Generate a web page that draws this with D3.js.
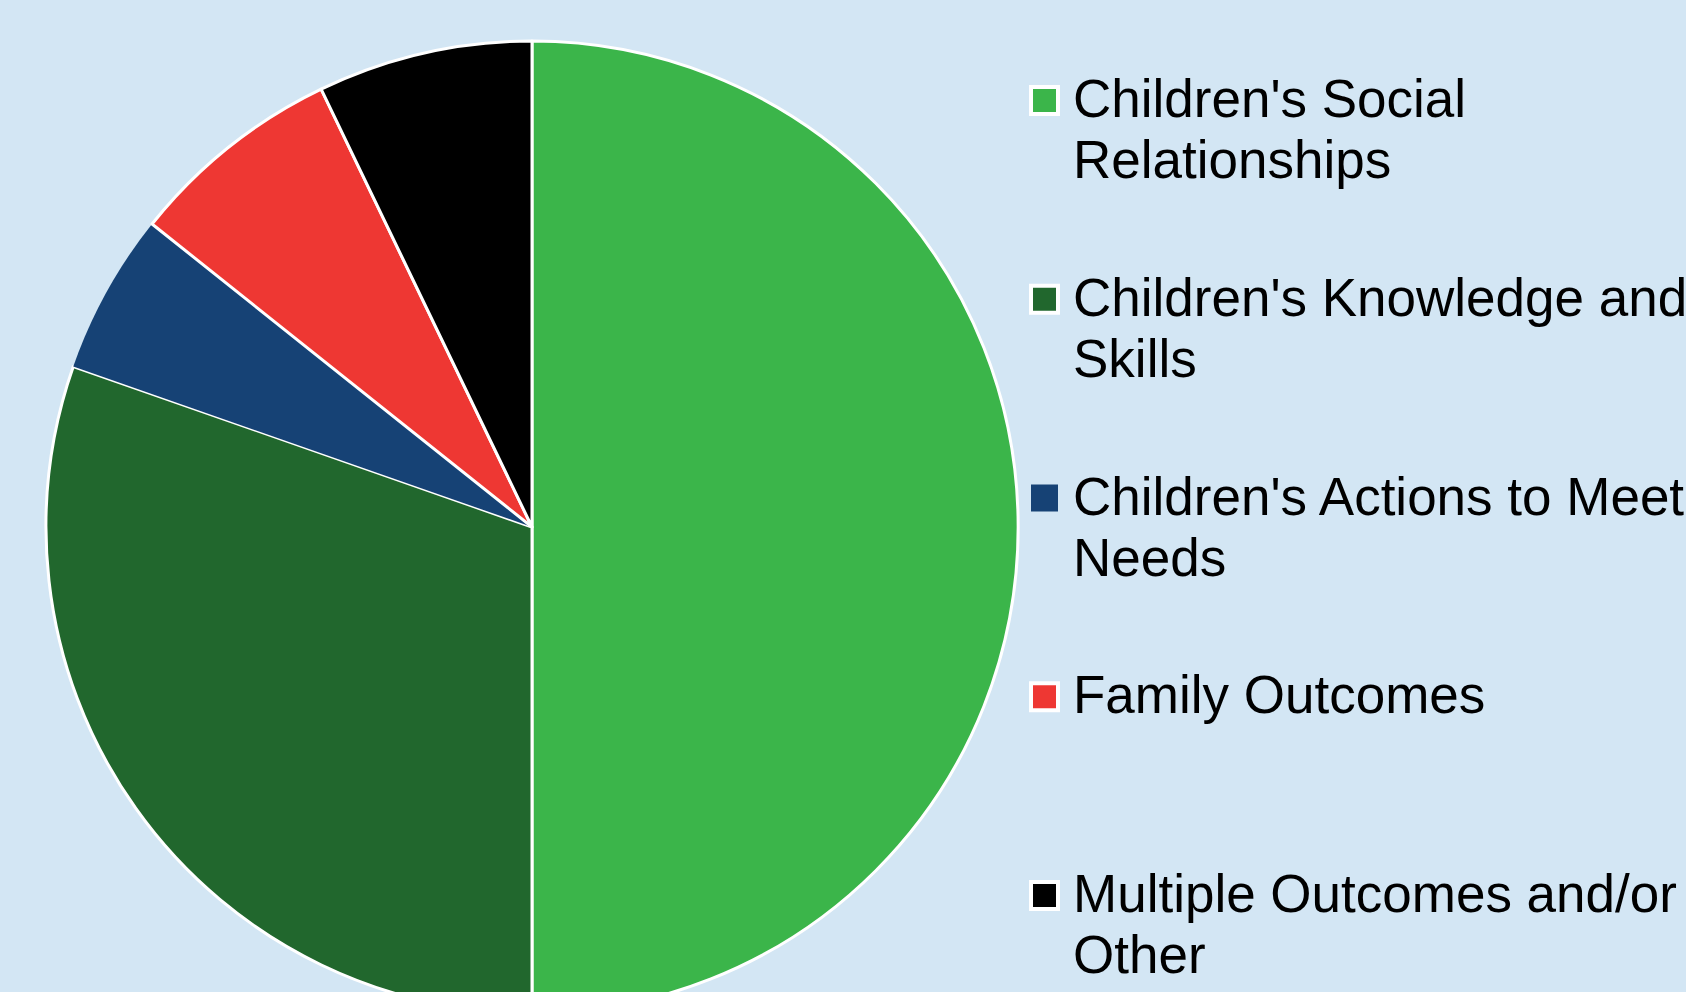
<!DOCTYPE html>
<html>
<head>
<meta charset="utf-8">
<script src="https://cdn.jsdelivr.net/npm/d3@7"></script>
<style>
  html, body { margin: 0; padding: 0; background: #d3e6f4; }
  svg { display: block; }
</style>
</head>
<body>
<div class="chart"></div>
<script>
var categories = [
    "Children's Social Relationships",
    "Children's Knowledge and Skills",
    "Children's Actions to Meet Needs",
    "Family Outcomes",
    "Multiple Outcomes and/or Other"
];
var values = [28, 17, 3, 4, 4];

// legend wraps as in the original
var legendLines = [
    ["Children's Social", "Relationships"],
    ["Children's Knowledge and", "Skills"],
    ["Children's Actions to Meet", "Needs"],
    ["Family Outcomes"],
    ["Multiple Outcomes and/or", "Other"]
];

var colors = ['#3bb54a', '#21672d', '#164275', '#ee3733', '#000000'];
var outlined = [true, true, false, true, true];

var fullWidth = 1686;
var fullHeight = 992;

var cx = 532, cy = 527, radius = 486;

var svg = d3.select('.chart')
            .append('svg')
            .attr('width', fullWidth)
            .attr('height', fullHeight);

svg.append('rect')
   .attr('width', fullWidth)
   .attr('height', fullHeight)
   .attr('fill', '#d3e6f4');

var data = categories.map(function (c, i) {
    return { name: c, value: values[i], i: i };
});

var pie = d3.pie()
            .sort(null)
            .value(function (d) { return d.value; });

var arc = d3.arc()
            .innerRadius(0)
            .outerRadius(radius);

var g = svg.append('g')
           .attr('transform', 'translate(' + cx + ',' + cy + ')');

g.selectAll('path')
 .data(pie(data))
 .enter().append('path')
 .attr('d', arc)
 .attr('fill', function (d) { return colors[d.data.i]; })
 .attr('stroke', function (d) { return outlined[d.data.i] ? '#fff' : 'none'; })
 .attr('stroke-width', 3)
 .attr('stroke-linejoin', 'round');

// legend
var legendX = 1029, firstBaseline = 117, step = 198.75, lineHeight = 61;

var legend = svg.append('g');

var item = legend.selectAll('g')
                 .data(data)
                 .enter().append('g')
                 .attr('transform', function (d, i) {
                     return 'translate(' + legendX + ',' + (firstBaseline + i * step) + ')';
                 });

item.append('rect')
    .attr('x', 2)
    .attr('y', -30)
    .attr('width', 27)
    .attr('height', 27)
    .attr('fill', function (d) { return colors[d.i]; })
    .attr('stroke', function (d) { return outlined[d.i] ? '#fff' : 'none'; })
    .attr('stroke-width', 4);

item.append('text')
    .style('font-family', '"Liberation Sans", Arial, sans-serif')
    .style('font-size', '53px')
    .attr('fill', '#000')
    .selectAll('tspan')
    .data(function (d) { return legendLines[d.i]; })
    .enter().append('tspan')
    .attr('x', 44)
    .attr('y', function (d, j) { return j * lineHeight; })
    .text(function (d) { return d; });
</script>
</body>
</html>
